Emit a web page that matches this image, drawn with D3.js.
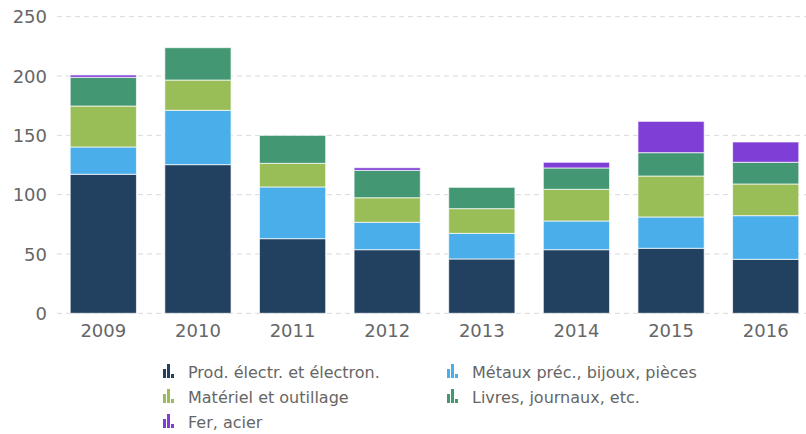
<!DOCTYPE html>
<html>
<head>
<meta charset="utf-8">
<script src="https://cdn.jsdelivr.net/npm/d3@7"></script>
<style>
  body { margin: 0; background: #fff; }
  text { font-family: "DejaVu Sans", sans-serif; }
</style>
</head>
<body>
<div id="chart"></div>
<script>
var years = ["2009", "2010", "2011", "2012", "2013", "2014", "2015", "2016"];
var seriesNames = ["Prod. électr. et électron.", "Métaux préc., bijoux, pièces", "Matériel et outillage", "Livres, journaux, etc.", "Fer, acier"];
var seriesColors = ["#22405f", "#4aaeea", "#9abe57", "#439873", "#7f3fd6"];
var electr = [117.2, 125.3, 62.9, 53.6, 45.8, 53.6, 54.8, 45.5];
var metaux = [23.0, 45.8, 43.6, 23.1, 21.6, 24.2, 26.4, 36.8];
var materiel = [34.5, 25.5, 19.9, 20.7, 20.8, 26.7, 34.5, 26.7];
var livres = [24.2, 27.3, 23.6, 23.1, 18.0, 18.0, 19.7, 18.3];
var fer = [2.0, 0, 0, 2.2, 0, 4.8, 26.4, 17.1];
var yTicks = [0, 50, 100, 150, 200, 250];

var width = 806, height = 434;
var svg = d3.select("#chart").append("svg")
  .attr("width", width)
  .attr("height", height);

var keys = ["electr", "metaux", "materiel", "livres", "fer"];
var table = years.map(function(y, i) {
  return { year: y, electr: electr[i], metaux: metaux[i], materiel: materiel[i], livres: livres[i], fer: fer[i] };
});
var stacked = d3.stack().keys(keys)(table);

var x = d3.scaleBand()
  .domain(years)
  .range([56, 813])
  .paddingInner(0.3)
  .paddingOuter(0.15);

var y = d3.scaleLinear()
  .domain([0, 250])
  .range([313.3, 16.7]);

// grid
svg.append("g")
  .selectAll("line")
  .data(yTicks)
  .enter().append("line")
  .attr("x1", 57)
  .attr("x2", width)
  .attr("y1", function(d) { return y(d); })
  .attr("y2", function(d) { return y(d); })
  .attr("stroke", "#d9d9d9")
  .attr("stroke-width", 1)
  .attr("stroke-dasharray", "5,4");

// bars
svg.append("g")
  .selectAll("g")
  .data(stacked)
  .enter().append("g")
  .attr("fill", function(d, i) { return seriesColors[i]; })
  .selectAll("rect")
  .data(function(d) { return d.filter(function(s) { return s[1] - s[0] > 0; }); })
  .enter().append("rect")
  .attr("x", function(d) { return x(d.data.year); })
  .attr("y", function(d) { return y(d[1]); })
  .attr("width", x.bandwidth())
  .attr("height", function(d) { return y(d[0]) - y(d[1]); })
  .attr("stroke", "#ffffff")
  .attr("stroke-opacity", 0.7)
  .attr("stroke-width", 1);

// y axis
var yAxis = d3.axisLeft(y).tickValues(yTicks).tickSize(0).tickPadding(0);
var gy = svg.append("g")
  .attr("transform", "translate(47,0)")
  .call(yAxis);
gy.select(".domain").remove();
gy.selectAll("text")
  .attr("fill", "#666")
  .style("font-size", "18px")
  .attr("dy", "0.34em");

// x axis
var xAxis = d3.axisBottom(x).tickSize(0).tickPadding(0);
var gx = svg.append("g")
  .attr("transform", "translate(0,324)")
  .call(xAxis);
gx.select(".domain").remove();
gx.selectAll("text")
  .attr("fill", "#666")
  .style("font-size", "18px")
  .attr("dy", "0.71em");

// legend
var legendPos = [[163, 372], [447, 372], [163, 397], [447, 397], [163, 422]];
var legend = svg.append("g")
  .selectAll("g")
  .data(seriesNames)
  .enter().append("g")
  .attr("transform", function(d, i) { return "translate(" + legendPos[i][0] + "," + legendPos[i][1] + ")"; });

legend.each(function(d, i) {
  var g = d3.select(this);
  // little bar-chart glyph
  var icon = [[0, -3, 9], [4, -8, 14], [8, 2, 4]];
  icon.forEach(function(b) {
    g.append("rect")
      .attr("x", b[0])
      .attr("y", b[1])
      .attr("width", 3)
      .attr("height", b[2])
      .attr("fill", seriesColors[i])
      .attr("shape-rendering", "crispEdges");
  });
  g.append("text")
    .attr("x", 25)
    .attr("y", 0)
    .attr("dy", "0.35em")
    .attr("fill", "#666")
    .style("font-size", "16px")
    .text(d);
});
</script>
</body>
</html>
